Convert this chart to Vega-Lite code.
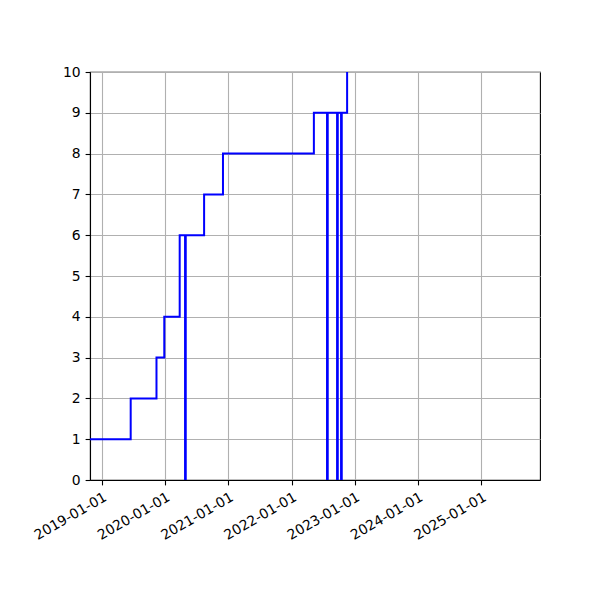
{
  "$schema": "https://vega.github.io/schema/vega-lite/v6.json",
  "autosize": "none",
  "padding": {"left": 90, "top": 72, "right": 60, "bottom": 120},
  "width": 450,
  "height": 408,
  "background": "white",
  "config": {
    "view": {"stroke": "black", "strokeWidth": 1.1},
    "axis": {
      "labelFont": "DejaVu Sans",
      "labelFontSize": 13.9,
      "labelColor": "black",
      "tickColor": "black",
      "tickSize": 4.9,
      "tickWidth": 1.1,
      "labelPadding": 4.9,
      "domainColor": "black",
      "domainWidth": 1.1,
      "gridColor": "#b0b0b0",
      "gridWidth": 1.1,
      "title": null
    }
  },
  "data": {
    "values": [
      {"date": "2018-10-25", "value": 1},
      {"date": "2019-06-17", "value": 2},
      {"date": "2019-11-13", "value": 3},
      {"date": "2019-12-28", "value": 4},
      {"date": "2020-03-26", "value": 6},
      {"date": "2020-04-26", "value": 0},
      {"date": "2020-04-30", "value": 6},
      {"date": "2020-08-14", "value": 7},
      {"date": "2020-12-01", "value": 8},
      {"date": "2022-05-10", "value": 9},
      {"date": "2022-07-25", "value": 0},
      {"date": "2022-07-29", "value": 9},
      {"date": "2022-09-21", "value": 0},
      {"date": "2022-09-25", "value": 9},
      {"date": "2022-10-14", "value": 0},
      {"date": "2022-10-18", "value": 9},
      {"date": "2022-11-18", "value": 11},
      {"date": "2025-06-01", "value": 12}
    ]
  },
  "mark": {
    "type": "line",
    "interpolate": "step-after",
    "color": "blue",
    "strokeWidth": 2,
    "clip": true
  },
  "encoding": {
    "x": {
      "field": "date",
      "type": "temporal",
      "scale": {
        "type": "utc",
        "domain": [
          {"year": 2018, "month": 10, "date": 25, "utc": true},
          {"year": 2025, "month": 12, "date": 6, "utc": true}
        ],
        "nice": false
      },
      "axis": {
        "values": [
          {"year": 2019, "month": 1, "date": 1, "utc": true},
          {"year": 2020, "month": 1, "date": 1, "utc": true},
          {"year": 2021, "month": 1, "date": 1, "utc": true},
          {"year": 2022, "month": 1, "date": 1, "utc": true},
          {"year": 2023, "month": 1, "date": 1, "utc": true},
          {"year": 2024, "month": 1, "date": 1, "utc": true},
          {"year": 2025, "month": 1, "date": 1, "utc": true}
        ],
        "labelExpr": "utcFormat(datum.value, '%Y-%m-%d')",
        "labelAngle": -30,
        "labelAlign": "right",
        "labelBaseline": "top",
        "labelOverlap": false
      }
    },
    "y": {
      "field": "value",
      "type": "quantitative",
      "scale": {"domain": [0, 10], "nice": false, "zero": false},
      "axis": {"values": [0, 1, 2, 3, 4, 5, 6, 7, 8, 9, 10]}
    }
  }
}
